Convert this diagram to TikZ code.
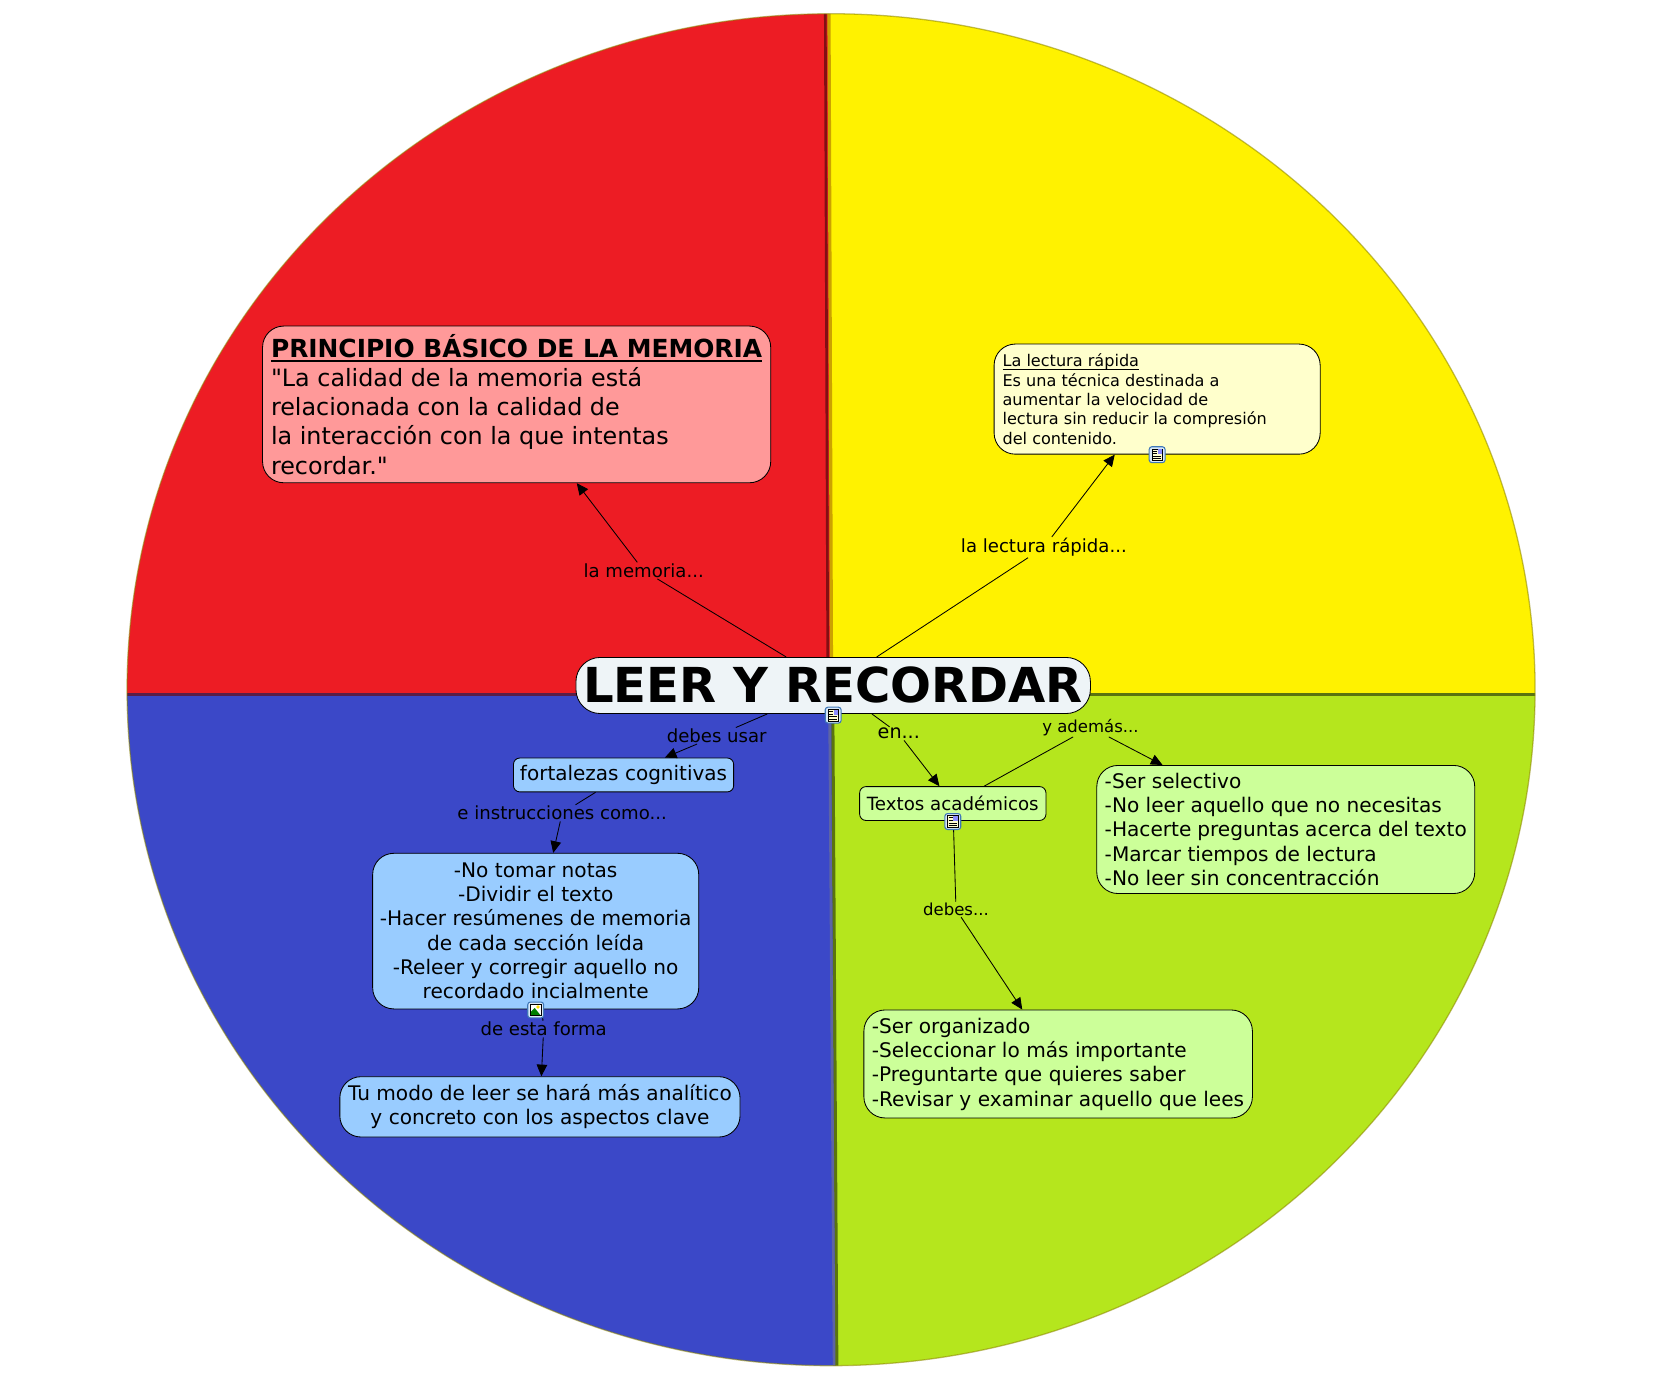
\documentclass[tikz,border=0pt]{standalone}
\usepackage{fontspec}
\setmainfont{DejaVu Sans}
\newfontfamily\plainfont{DejaVu Sans}
\usetikzlibrary{arrows.meta}
\definecolor{qred}{HTML}{ED1C24}
\definecolor{qyellow}{HTML}{FFF200}
\definecolor{qblue}{HTML}{3B48C8}
\definecolor{qgreen}{HTML}{B5E61D}
\definecolor{bred}{HTML}{FF9999}
\definecolor{byellow}{HTML}{FFFFCC}
\definecolor{bblue}{HTML}{99CCFF}
\definecolor{bgreen}{HTML}{CCFF99}
\definecolor{btitle}{HTML}{EEF4F7}
\definecolor{iconedge}{HTML}{3F78B8}
\definecolor{iconfill}{HTML}{D8E8F8}
\newsavebox{\ulbox}
\newcommand{\lowul}[3]{\sbox{\ulbox}{#1}\leavevmode\rlap{\rule[-#2]{\wd\ulbox}{#3}}\usebox{\ulbox}}
\tikzset{
  box/.style={draw=black,line width=0.8pt,rounded corners=20pt,inner sep=0pt,align=left,anchor=center},
  smallbox/.style={box,rounded corners=6pt},
  lbl/.style={inner sep=1pt,font=\fontsize{17.1}{19}\selectfont,text=black},
  conn/.style={draw=black,line width=0.8pt},
  arr/.style={conn,-{Triangle[length=11pt,width=10pt]}},
  docicon/.pic={
    \node[draw=iconedge,fill=iconfill,rounded corners=2.5pt,minimum size=15pt,inner sep=0pt,line width=1pt] (-frame) at (0,0) {};
    \fill[yellow!18] (-5,-5.5) rectangle (5,5.5);
    \draw[black,line width=.6pt] (-5,-5.5) rectangle (5,5.5);
    \fill[blue!45] (0.5,-5) rectangle (4.5,-0.5);
    \draw[black,line width=0.8pt] (-4,-3.5) -- (0,-3.5) (-4,-1) -- (0,-1) (-4,1.5) -- (4,1.5) (-4,3.7) -- (4,3.7);
  },
  imgicon/.pic={
    \node[draw=iconedge,fill=iconfill,rounded corners=2.5pt,minimum size=15pt,inner sep=0pt,line width=1pt] (-frame) at (0,0) {};
    \fill[white] (-5,-5.5) rectangle (5,5.5);
    \fill[green!50!black] (-5,5.5) -- (-5,2) -- (-1,-2) -- (5,5.5) -- cycle;
    \fill[yellow!80!orange] (2.2,-2.8) circle (1.8);
    \draw[black,line width=.6pt] (-5,-5.5) rectangle (5,5.5);
  }
}
\begin{document}
\begin{tikzpicture}[x=1pt,y=-1pt]
\useasboundingbox (0,0) rectangle (1568,1313);
\begin{scope}
  \clip (785,651.5) ellipse [x radius=665pt,y radius=638.5pt];
  \fill[qred] (100,0) -- (783,0) -- (786,656) -- (100,656) -- cycle;
  \fill[qyellow] (783,0) -- (1500,0) -- (1500,656) -- (786,656) -- cycle;
  \fill[qblue] (100,656) -- (786,656) -- (790,1306) -- (100,1306) -- cycle;
  \fill[qgreen] (786,656) -- (1500,656) -- (1500,1306) -- (790,1306) -- cycle;
  \draw[line width=2.5pt,color=qred!55!black] (779.5,0) -- (782,656);
  \draw[line width=3pt,color=qyellow!65!orange!80!black] (783,0) -- (785.5,656);
  \draw[line width=3pt,color=qgreen!50!black] (786.5,656) -- (790.5,1306);
  \draw[line width=2.5pt,color=qblue!50!gray] (783.5,656) -- (788,1306);
  \draw[line width=3pt,color=qblue!50!qred!60!black] (100,656) -- (785,656);
  \draw[line width=3pt,color=qgreen!50!black] (785,656) -- (1500,656);
\end{scope}
\draw[line width=1.2pt,color=black!45!qyellow,opacity=.55] (785,651.5) ellipse [x radius=665pt,y radius=638.5pt];

\node[box,fill=bred,minimum width=480pt,minimum height=148pt] (princ) at (488,382) {%
  \begin{minipage}{464pt}\fontsize{22.5}{27.5}\selectfont
  {\fontsize{23.5}{27.5}\selectfont\bfseries\lowul{PRINCIPIO BÁSICO DE LA MEMORIA}{4pt}{1.5pt}}\\
  {\plainfont"}La calidad de la memoria está\\
  relacionada con la calidad de\\
  la interacción con la que intentas\\
  recordar.{\plainfont"}\end{minipage}};
\node[box,fill=byellow,minimum width=308pt,minimum height=104pt] (lect) at (1093,377) {%
  \raisebox{2pt}{\begin{minipage}{292pt}\fontsize{15.2}{18.3}\selectfont
  \lowul{La lectura rápida}{3.2pt}{0.9pt}\\
  Es una técnica destinada a\\
  aumentar la velocidad de\\
  lectura sin reducir la compresión\\
  del contenido.\end{minipage}}};
\node[smallbox,fill=bblue,minimum width=208pt,minimum height=32pt,align=center,font=\fontsize{18.9}{23}\selectfont] (fort) at (589,732) {fortalezas cognitivas};
\node[box,fill=bblue,minimum width=308pt,minimum height=147pt,align=center,font=\fontsize{19}{23}\selectfont] (list) at (506,879.5) {\raisebox{1pt}{-No tomar notas}\\\raisebox{1pt}{-Dividir el texto}\\\raisebox{1pt}{-Hacer resúmenes de memoria}\\\raisebox{1pt}{de cada sección leída}\\\raisebox{1pt}{-Releer y corregir aquello no}\\\raisebox{1.5pt}{recordado incialmente}};
\node[box,fill=bblue,minimum width=378pt,minimum height=57pt,align=center,font=\fontsize{19}{23}\selectfont] (modo) at (510,1045.5) {Tu modo de leer se hará más analítico\\y concreto con los aspectos clave};
\node[smallbox,fill=bgreen,minimum width=176pt,minimum height=32pt,align=center,font=\fontsize{17.2}{21}\selectfont] (text) at (900,759) {Textos académicos};
\node[box,fill=bgreen,minimum width=357pt,minimum height=121pt] (sel) at (1214.5,783.5) {%
  \begin{minipage}{342pt}\fontsize{19}{23}\selectfont
  -Ser selectivo\\-No leer aquello que no necesitas\\-Hacerte preguntas acerca del texto\\-Marcar tiempos de lectura\\-No leer sin concentracción\end{minipage}};
\node[box,fill=bgreen,minimum width=367pt,minimum height=102pt] (org) at (999.5,1005) {%
  \begin{minipage}{352pt}\fontsize{19}{23}\selectfont
  -Ser organizado\\-Seleccionar lo más importante\\-Preguntarte que quieres saber\\-Revisar y examinar aquello que lees\end{minipage}};
\node[box,fill=btitle,rounded corners=23pt,minimum width=486pt,minimum height=53pt,align=center,font=\fontsize{45.5}{50}\selectfont\bfseries] (title) at (787,647.5) {\raisebox{2pt}{LEER Y RECORDAR}};

\node[lbl] (lmem) at (608,539) {la memoria...};
\node[lbl] (llec) at (986,517) {la lectura rápida...};
\node[lbl] (ldeb) at (677,695) {debes usar};
\node[lbl] (lins) at (531,768) {e instrucciones como...};
\node[lbl] (lfor) at (513.5,972) {de esta forma};
\node[lbl,font=\fontsize{18.1}{20}\selectfont] (len) at (849,693) {en...};
\node[lbl,font=\fontsize{15.6}{18}\selectfont] (lyad) at (1030,687) {y además...};
\node[lbl,font=\fontsize{15.6}{18}\selectfont] (ldbs) at (903,859) {debes...};

\draw[conn] (title) -- (lmem);
\draw[arr] (lmem) -- (princ);
\draw[conn] (title) -- (llec);
\draw[arr] (llec) -- (lect);
\draw[conn] (title) -- (ldeb);
\draw[arr] (ldeb) -- (fort);
\draw[conn] (fort) -- (lins);
\draw[arr] (lins) -- (list);
\draw[conn] (list) -- (lfor);
\draw[arr] (lfor) -- (modo);
\draw[conn] (title) -- (len);
\draw[arr] (len) -- (text);
\draw[conn] (text) -- (lyad);
\draw[arr] (lyad) -- (sel);
\draw[conn] (text) -- (ldbs);
\draw[arr] (ldbs) -- (org);

\pic (ic1) at (787,675.5) {docicon};
\pic (ic2) at (1093,429.5) {docicon};
\pic (ic3) at (900,776) {docicon};
\pic (ic4) at (506,954) {imgicon};
\end{tikzpicture}
\end{document}
